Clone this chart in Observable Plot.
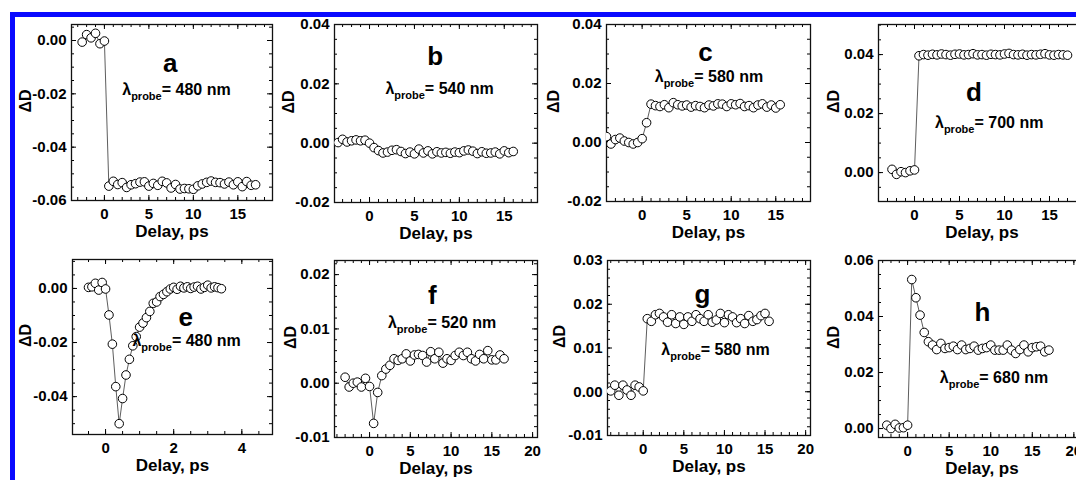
<!DOCTYPE html>
<html><head><meta charset="utf-8">
<script src="https://cdn.jsdelivr.net/npm/d3@7"></script>
<script src="https://cdn.jsdelivr.net/npm/@observablehq/plot@0.6"></script>
<style>
html,body{margin:0;padding:0;background:#fff;overflow:hidden;}
#root{position:relative;width:1076px;height:480px;overflow:hidden;background:#fff;}
.bar{position:absolute;background:#0a0aff;}
#root svg{position:absolute;}
</style></head><body>
<div id="root">
<div class="bar" style="left:10px;top:12px;width:1066px;height:5px"></div>
<div class="bar" style="left:10px;top:12px;width:5px;height:468px"></div>
</div>
<script>
// ---- time axes (ps) ----
const tA = [-2.5,-2,-1.5,-1,-0.5,0,0.5,1,1.5,2,2.5,3,3.5,4,4.5,5,5.5,6,6.5,7,7.5,8,8.5,9,9.5,10,10.5,11,11.5,12,12.5,13,13.5,14,14.5,15,15.5,16,16.5,17];
const tB = [-3.5,-3,-2.5,-2,-1.5,-1,-0.5,0,0.5,1,1.5,2,2.5,3,3.5,4,4.5,5,5.5,6,6.5,7,7.5,8,8.5,9,9.5,10,10.5,11,11.5,12,12.5,13,13.5,14,14.5,15,15.5,16];
const tC = [-4,-3.5,-3,-2.5,-2,-1.5,-1,-0.5,0,0.5,1,1.5,2,2.5,3,3.5,4,4.5,5,5.5,6,6.5,7,7.5,8,8.5,9,9.5,10,10.5,11,11.5,12,12.5,13,13.5,14,14.5,15,15.5];
const tE = [-0.5,-0.4,-0.3,-0.2,-0.1,0,0.1,0.2,0.3,0.4,0.5,0.6,0.7,0.8,0.9,1,1.1,1.2,1.3,1.4,1.5,1.6,1.7,1.8,1.9,2,2.1,2.2,2.3,2.4,2.5,2.6,2.7,2.8,2.9,3,3.1,3.2,3.3,3.4];
const tF = [-3,-2.5,-2,-1.5,-1,-0.5,0,0.5,1,1.5,2,2.5,3,3.5,4,4.5,5,5.5,6,6.5,7,7.5,8,8.5,9,9.5,10,10.5,11,11.5,12,12.5,13,13.5,14,14.5,15,15.5,16,16.5];

// ---- ΔD series ----
const dA = [-0.0006,0.0022,0.0010,0.0027,-0.0012,-0.0002,
 -0.0546,-0.0528,-0.0540,-0.0533,-0.0551,-0.0541,-0.0537,-0.0531,-0.0530,-0.0546,-0.0536,-0.0543,-0.0528,-0.0534,-0.0553,-0.0540,-0.0557,-0.0555,-0.0556,-0.0558,-0.0545,-0.0538,-0.0532,-0.0527,-0.0532,-0.0533,-0.0538,-0.0531,-0.0541,-0.0530,-0.0548,-0.0529,-0.0543,-0.0541];
const dB = [0.0002,0.0013,0.0004,0.0008,0.0011,0.0008,0.0010,0.0000,
 -0.0015,-0.0025,-0.0033,-0.0030,-0.0024,-0.0022,-0.0028,-0.0035,-0.0030,-0.0036,-0.0020,-0.0033,-0.0026,-0.0036,-0.0029,-0.0033,-0.0031,-0.0034,-0.0030,-0.0032,-0.0026,-0.0023,-0.0027,-0.0035,-0.0029,-0.0034,-0.0033,-0.0030,-0.0036,-0.0026,-0.0032,-0.0028];
const dC = [0.0020,-0.0005,0.0010,0.0015,0.0005,0.0000,-0.0005,0.0000,0.0013,
 0.0067,0.0130,0.0125,0.0122,0.0128,0.0118,0.0135,0.0128,0.0124,0.0127,0.0120,0.0125,0.0122,0.0118,0.0127,0.0124,0.0131,0.0130,0.0122,0.0131,0.0128,0.0132,0.0122,0.0125,0.0118,0.0127,0.0131,0.0120,0.0127,0.0117,0.0128];
const dD = [0.0011,-0.0006,0.0003,0.0000,0.0006,0.0009,
 0.0396,0.0400,0.0398,0.0401,0.0399,0.0402,0.0400,0.0398,0.0401,0.0402,0.0399,0.0400,0.0403,0.0399,0.0400,0.0398,0.0401,0.0400,0.0399,0.0402,0.0404,0.0400,0.0399,0.0401,0.0398,0.0400,0.0399,0.0401,0.0403,0.0399,0.0398,0.0400,0.0399,0.0398];
const dE = [0.0004,0.0006,0.0019,-0.0006,0.0022,-0.0002,
 -0.0098,-0.0206,-0.0363,-0.0500,-0.0407,-0.0320,-0.0262,-0.0212,-0.0178,-0.0143,-0.0128,-0.0108,-0.0085,-0.0055,-0.0050,-0.0030,-0.0022,-0.0012,-0.0002,0.0004,-0.0003,0.0008,0.0002,0.0006,0.0000,0.0005,0.0008,-0.0002,0.0004,0.0012,0.0002,0.0006,0.0003,-0.0001];
const dF = [0.0011,-0.0007,0.0000,0.0002,-0.0007,0.0009,-0.0006,
 -0.0074,-0.0017,0.0014,0.0026,0.0033,0.0045,0.0042,0.0045,0.0054,0.0041,0.0052,0.0053,0.0051,0.0039,0.0058,0.0045,0.0057,0.0037,0.0045,0.0042,0.0051,0.0057,0.0051,0.0057,0.0045,0.0041,0.0053,0.0045,0.0060,0.0043,0.0043,0.0052,0.0045];
const dG = [0.0002,0.0015,-0.0008,0.0015,0.0004,-0.0008,0.0015,0.0011,0.0002,
 0.0167,0.0161,0.0176,0.0179,0.0171,0.0159,0.0176,0.0156,0.0171,0.0154,0.0171,0.0161,0.0176,0.0167,0.0161,0.0176,0.0159,0.0164,0.0179,0.0158,0.0176,0.0171,0.0158,0.0167,0.0156,0.0174,0.0161,0.0165,0.0174,0.0179,0.0161];
const dH = [0.0012,0.0000,0.0015,0.0002,0.0003,0.0012,
 0.0532,0.0467,0.0405,0.0343,0.0310,0.0298,0.0282,0.0304,0.0286,0.0289,0.0294,0.0282,0.0298,0.0282,0.0286,0.0294,0.0280,0.0286,0.0289,0.0298,0.0280,0.0280,0.0280,0.0298,0.0280,0.0268,0.0282,0.0298,0.0274,0.0289,0.0292,0.0294,0.0274,0.0280];

// ---- labels / ticks ----
const letters = ["a","b","c","d","e","f","g","h"];
const probeNm = ["480","540","580","700","480","520","580","680"];
const xLabel = "Delay, ps";
const yLabel = "ΔD";
const xTicks5 = [0,5,10,15];
const xTicks20 = [0,5,10,15,20];
const xTicksE = [0,2,4];
const yTicksA = [-0.06,-0.04,-0.02,0];
const yTicksBC = [-0.02,0,0.02,0.04];
const yTicksD = [0,0.02,0.04];
const yTicksE = [-0.04,-0.02,0];
const yTicksF = [-0.01,0,0.01,0.02];
const yTicksG = [-0.01,0,0.01,0.02,0.03];
const yTicksH = [0,0.02,0.04,0.06];

// ---- panel layout (frame box in px, domains, annotation anchors in data units) ----
const panels = [
 {t:tA, d:dA, fl:71,  fr:272,  ft:24,  fb:200, xd:[-3.7,18.9], yd:[-0.06,0.006],   xt:xTicks5,  xs:1,   yt:yTicksA,  ys:0.005, L:[7.4,-0.0086], P:[8.1,-0.0187], ldx:-46},
 {t:tB, d:dB, fl:334, fr:537,  ft:24,  fb:202, xd:[-3.9,18.7], yd:[-0.02,0.04],    xt:xTicks5,  xs:1,   yt:yTicksBC, ys:0.005, L:[7.3,0.029],   P:[7.8,0.0183],  ldx:-46},
 {t:tC, d:dC, fl:606, fr:810,  ft:24,  fb:201, xd:[-4.0,18.9], yd:[-0.02,0.04],    xt:xTicks5,  xs:1,   yt:yTicksBC, ys:0.005, L:[7.1,0.0303],  P:[7.5,0.0222],  ldx:-53},
 {t:tA, d:dD, fl:878, fr:1085, ft:24,  fb:201, xd:[-4.0,19.0], yd:[-0.0098,0.0502],xt:xTicks5,  xs:1,   yt:yTicksD,  ys:0.005, L:[6.6,0.0271],  P:[8.3,0.0170],  ldx:-45},
 {t:tE, d:dE, fl:72,  fr:272,  ft:259, fb:434, xd:[-0.97,4.9], yd:[-0.054,0.0107], xt:xTicksE,  xs:0.5, yt:yTicksE,  ys:0.005, L:[2.35,-0.0107],P:[2.38,-0.0193],ldx:-47},
 {t:tF, d:dF, fl:334, fr:537,  ft:260, fb:437, xd:[-4.3,20.6], yd:[-0.01,0.0226],  xt:xTicks20, xs:1,   yt:yTicksF,  ys:0.002, L:[7.7,0.0161],  P:[8.9,0.0112],  ldx:-44},
 {t:tC, d:dG, fl:607, fr:810,  ft:260, fb:435, xd:[-4.4,20.6], yd:[-0.01,0.03],    xt:xTicks20, xs:1,   yt:yTicksG,  ys:0.002, L:[7.3,0.0223],  P:[8.9,0.0095],  ldx:-48},
 {t:tA, d:dH, fl:878, fr:1085, ft:260, fb:437, xd:[-3.5,21.4], yd:[-0.0032,0.06],  xt:xTicks20, xs:1,   yt:yTicksH,  ys:0.005, L:[9.0,0.0414],  P:[10.4,0.0182], ldx:-45}
];

const FONT = "'Liberation Sans', Arial, Helvetica, sans-serif";
const root = document.getElementById("root");
const SVGNS = "http://www.w3.org/2000/svg";

function minorTicks(dom, step) {
  const out = [];
  const k0 = Math.ceil(dom[0] / step - 1e-9), k1 = Math.floor(dom[1] / step + 1e-9);
  for (let k = k0; k <= k1; k++) out.push(+(k * step).toFixed(6));
  return out;
}

panels.forEach((p, i) => {
  const fw = p.fr - p.fl, fh = p.fb - p.ft;
  const ml = 70, mr = 6, mt = 8, mb = 48;
  const xm = minorTicks(p.xd, p.xs), ym = minorTicks(p.yd, p.ys);
  const data = p.t.map((x, j) => ({x, y: p.d[j]}));
  const id = v => v;
  const svg = Plot.plot({
    width: fw + ml + mr, height: fh + mt + mb,
    marginLeft: ml, marginRight: mr, marginTop: mt, marginBottom: mb,
    x: {domain: p.xd, label: null},
    y: {domain: p.yd, label: null},
    style: {fontFamily: FONT, fontWeight: "bold", fontSize: "15px", background: "transparent", overflow: "visible", color: "#000"},
    marks: [
      Plot.tickX(xm, {x: id, insetTop: fh - 3}),
      Plot.tickX(xm, {x: id, insetBottom: fh - 3}),
      Plot.tickX(p.xt, {x: id, insetTop: fh - 5}),
      Plot.tickX(p.xt, {x: id, insetBottom: fh - 5}),
      Plot.tickY(ym, {y: id, insetRight: fw - 3}),
      Plot.tickY(ym, {y: id, insetLeft: fw - 3}),
      Plot.tickY(p.yt, {y: id, insetRight: fw - 5}),
      Plot.tickY(p.yt, {y: id, insetLeft: fw - 5}),
      Plot.frame({stroke: "#111", strokeWidth: 1.3}),
      Plot.axisX(p.xt, {tickSize: 0, tickPadding: 8, label: null, tickFormat: d => String(d)}),
      Plot.axisY(p.yt, {tickSize: 0, tickPadding: 5, label: null, tickFormat: d => d.toFixed(2)}),
      Plot.line(data, {x: "x", y: "y", stroke: "#333", strokeWidth: 0.8, clip: true}),
      Plot.dot(data, {x: "x", y: "y", r: 4.3, fill: "white", stroke: "#000", strokeWidth: 1, clip: true}),
      Plot.text([letters[i]], {x: () => p.L[0], y: () => p.L[1], text: id, fontSize: 26}),
      Plot.text([probeNm[i]], {x: () => p.P[0], y: () => p.P[1], text: d => "= " + d + " nm", fontSize: 16}),
      Plot.text([xLabel], {frameAnchor: "bottom", lineAnchor: "middle", dy: 31, text: id, fontSize: 17}),
      Plot.text([yLabel], {frameAnchor: "left", lineAnchor: "middle", dx: p.ldx, rotate: -90, text: id, fontSize: 16})
    ]
  });
  svg.style.left = (p.fl - ml) + "px";
  svg.style.top = (p.ft - mt) + "px";
  // subscript "probe" under lambda
  svg.querySelectorAll("text").forEach(t => {
    const rest = t.textContent;
    if (!/^= \d+ nm$/.test(rest)) return;
    t.textContent = "";
    const add = (s, attrs) => {
      const ts = document.createElementNS(SVGNS, "tspan");
      ts.textContent = s;
      for (const k in attrs) ts.setAttribute(k, attrs[k]);
      t.appendChild(ts);
    };
    add("λ", {});
    add("probe", {"font-size": 11, dy: 5});
    add(rest, {"font-size": 16, dy: -5});
  });
  root.appendChild(svg);
});
</script>
</body></html>
